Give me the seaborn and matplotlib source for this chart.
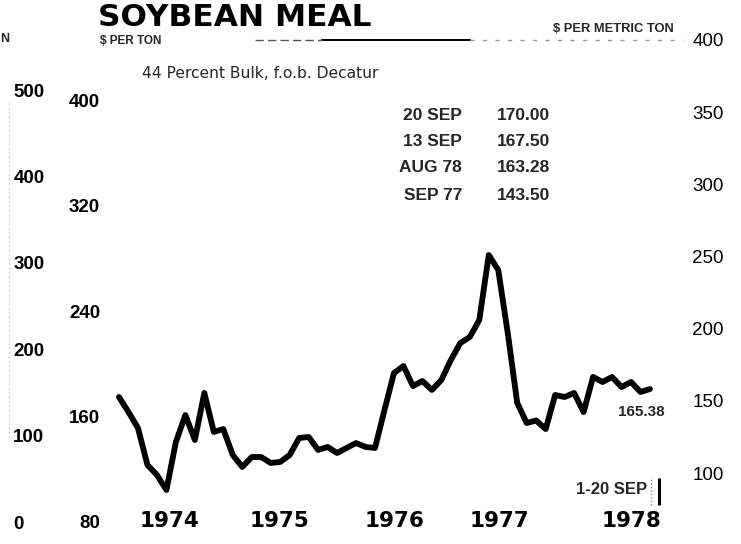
import numpy as np
import pandas as pd
import matplotlib
matplotlib.use("Agg")
import matplotlib.pyplot as plt
import seaborn as sns

# Soybean meal, 44 percent bulk, f.o.b. Decatur: monthly averages Jan 1974 - Sep 1978 ($ per ton)
months = pd.period_range("1974-01", "1978-09", freq="M")
price = [
    159.8, 149.4, 138.3, 112.7, 105.8, 95.4, 128.6, 147.3, 130.0, 162.6, 135.6, 137.6,   # 1974
    119.6, 111.3, 118.2, 118.2, 114.1, 114.8, 119.6, 131.4, 132.1, 123.1, 125.2, 121.0,  # 1975
    124.5, 127.9, 125.2, 124.5, 150.8, 176.4, 181.3, 167.4, 170.9, 164.7, 171.6, 185.5,  # 1976
    197.2, 201.4, 213.2, 258.2, 247.8, 204.2, 155.7, 141.8, 143.50, 137.6, 161.2, 159.8, # 1977
    162.6, 149.4, 173.7, 170.2, 173.7, 166.7, 170.2, 163.28, 165.38,                     # 1978
]

year_labels = ["1974", "1975", "1976", "1977", "1978"]

# quotation box
quote_dates = ["20 SEP", "13 SEP", "AUG 78", "SEP 77"]
quote_prices = ["170.00", "167.50", "163.28", "143.50"]

# axis scales
outer_ticks = [0, 100, 200, 300, 400, 500]
ton_ticks = [80, 160, 240, 320, 400]
metric_ticks = [100, 150, 200, 250, 300, 350, 400]

df = pd.DataFrame({"month": np.arange(len(months)), "price": price})

sns.set_theme(style="white")
plt.rcParams["font.family"] = ["Liberation Sans", "DejaVu Sans"]

W, H = 741, 544
fig = plt.figure(figsize=(W / 100, H / 100), dpi=100)
fig.patch.set_facecolor("white")


def box(l, t, r, b):
    return [l / W, 1 - b / H, (r - l) / W, (b - t) / H]


def ftext(x, y, s, **kw):
    return fig.text(x / W, 1 - y / H, s, **kw)


AX = (105, 40, 686, 528)
ax = fig.add_axes(box(*AX))
sns.lineplot(data=df, x="month", y="price", ax=ax, color="black", lw=4.2,
             solid_joinstyle="round", solid_capstyle="round", zorder=5)
ax.set_xlim(-1.476, 59.80)
ax.set_ylim(69.03, 407.2)
ax.set_xlabel("")
ax.set_ylabel("")
ax.set_yticks([])
for s in ax.spines.values():
    s.set_visible(False)

year_pos = [5.3, 16.9, 29.1, 40.1, 54.0]
ax.set_xticks(year_pos, year_labels)
ax.tick_params(axis="x", length=0, pad=-12.5, labelsize=15.5)
for lab in ax.get_xticklabels():
    lab.set_fontfamily("DejaVu Sans")
    lab.set_fontweight("bold")
    lab.set_color("black")

# outer left scale
ax_out = fig.add_axes(box(*AX), frameon=False)
ax_out.set_xlim(0, 1)
ax_out.set_ylim(-6.94, 557.87)
ax_out.set_xticks([])
ax_out.set_yticks(outer_ticks, [str(t) for t in outer_ticks])
ax_out.tick_params(axis="y", length=0, pad=66.0, labelsize=13.5)
for lab in ax_out.get_yticklabels():
    lab.set_horizontalalignment("left")
    lab.set_fontweight("bold")
    lab.set_color("black")

# inner left scale, $ per ton
ax_in = fig.add_axes(box(*AX), frameon=False)
ax_in.set_xlim(0, 1)
ax_in.set_ylim(75.45, 445.5)
ax_in.set_xticks([])
ax_in.set_yticks(ton_ticks, [str(t) for t in ton_ticks])
ax_in.tick_params(axis="y", length=0, pad=3.5, labelsize=13.5)
for lab in ax_in.get_yticklabels():
    lab.set_fontweight("bold")
    lab.set_color("black")

# right scale, $ per metric ton
ax_r = fig.add_axes(box(*AX), frameon=False)
ax_r.set_xlim(0, 1)
ax_r.set_ylim(61.9, 400)
ax_r.set_xticks([])
ax_r.yaxis.tick_right()
ax_r.set_yticks(metric_ticks, [str(t) for t in metric_ticks])
ax_r.tick_params(axis="y", length=0, pad=4.5, labelsize=13.5)
for lab in ax_r.get_yticklabels():
    lab.set_color("black")

# rule along the top of the metric-ton scale
span = AX[2] - AX[0]
fx = lambda px: (px - AX[0]) / span
ax_r.axhline(400, xmin=fx(322), xmax=fx(470), color="black", lw=1.4, clip_on=False)
ax_r.axhline(400, xmin=fx(255), xmax=fx(322), color="#555555", lw=1.0,
             ls=(0, (6, 3)), clip_on=False)
ax_r.axhline(400, xmin=fx(470), xmax=fx(683), color="#9a9a9a", lw=1.0,
             ls=(0, (3, 6)), clip_on=False)

# faint dotted rule beside the outer scale
fig.add_artist(plt.Line2D([9 / W, 9 / W], [1 - 103 / H, 1 - 440 / H],
                          color="#b0b0b0", lw=0.8, ls=(0, (1, 3))))

# current period markers
n = len(price)
xt = ax.get_xaxis_transform()
ax.vlines(n - 1 + 0.1, 0.047, 0.1025, transform=xt, color="#888888", lw=1.0,
          linestyles=(0, (1, 1.5)))
ax.vlines(n - 1 + 0.95, 0.047, 0.1025, transform=xt, color="black", lw=2.2)

# titles and notes
ftext(98, 25.5, "SOYBEAN MEAL", fontsize=22.5, fontweight="bold",
      family="DejaVu Sans", va="baseline", ha="left", color="black")
ftext(100, 40.5, "$ PER TON", fontsize=8.5, fontweight="bold", va="center", ha="left")
ftext(0.5, 39, "N", fontsize=9, fontweight="bold", va="center", ha="left")
ftext(553, 29, "$ PER METRIC TON", fontsize=9.3, fontweight="bold", va="center", ha="left")
ftext(142, 73, "44 Percent Bulk, f.o.b. Decatur", fontsize=11.2,
      family="DejaVu Sans", va="center", ha="left")

row_y = [116, 142, 168, 195]
for y, d, p in zip(row_y, quote_dates, quote_prices):
    ftext(462, y, d, fontsize=12.5, fontweight="bold", ha="right", va="center")
    ftext(497, y, p, fontsize=12.5, fontweight="bold", ha="left", va="center")

ftext(618, 412, f"{price[-1]:.2f}", fontsize=11, fontweight="bold", ha="left", va="center")
ftext(647, 489, "1-20 SEP", fontsize=12, fontweight="bold", ha="right", va="center")

fig.savefig("out.png", dpi=100, facecolor="white")
